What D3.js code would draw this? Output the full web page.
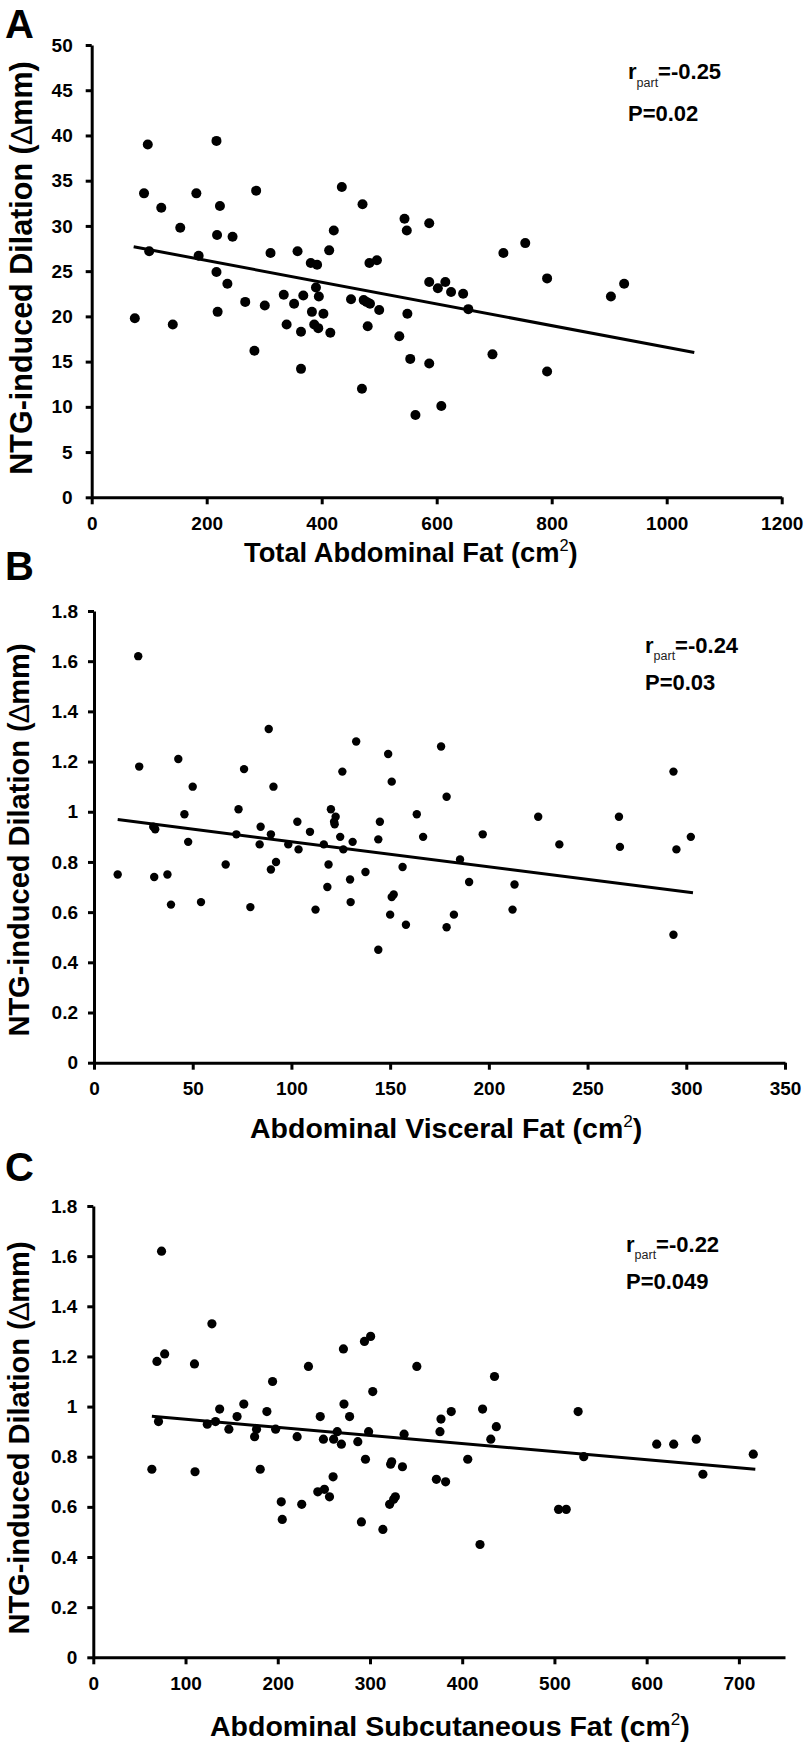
<!DOCTYPE html>
<html>
<head>
<meta charset="utf-8">
<script src="https://cdn.jsdelivr.net/npm/d3@7"></script>
<style>
  body { margin: 0; background: #fff; }
  svg { display: block; }
</style>
</head>
<body>
<svg id="chart" width="806" height="1745"></svg>
<script>
// ---------------- DATA ----------------
// Panel A: Total abdominal fat (cm2) vs NTG-induced dilation
const totalFat = [75, 91, 97.5, 100, 121, 141, 154, 182, 186, 217, 218, 223, 217, 219, 236, 245, 267, 283, 286, 301, 311, 334, 339, 352, 358, 364, 364, 368, 381, 383, 387, 392, 390, 394, 395, 403, 413, 415, 421, 435, 451, 471, 470, 473, 478, 480, 483, 484, 496, 500, 535, 544, 548, 549, 554, 563, 587, 587, 587, 602, 608, 615, 625, 646, 655, 697, 716, 754, 792, 792, 903, 926];
const ntgA = [19.8, 33.6, 39.0, 27.2, 32.0, 19.1, 29.8, 33.6, 26.7, 39.4, 29.0, 32.2, 24.9, 20.5, 23.6, 28.8, 21.6, 16.2, 33.9, 21.2, 27.0, 22.4, 19.1, 21.4, 27.2, 18.3, 14.2, 22.3, 25.9, 20.5, 19.1, 25.7, 23.2, 18.7, 22.2, 20.3, 27.3, 18.2, 29.5, 34.3, 21.9, 32.4, 12.0, 21.8, 21.6, 18.9, 25.9, 21.4, 26.2, 20.7, 17.8, 30.8, 29.5, 20.3, 15.3, 9.1, 30.3, 14.8, 23.8, 23.1, 10.1, 23.8, 22.7, 22.5, 20.8, 15.8, 27.0, 28.1, 24.2, 13.9, 22.2, 23.6];
const fitA = [[73, 27.7], [1048, 16.0]];
const xTicksA = [0, 200, 400, 600, 800, 1000, 1200];
const yTicksA = [0, 5, 10, 15, 20, 25, 30, 35, 40, 45, 50];
const yTickLabelsA = ["0", "5", "10", "15", "20", "25", "30", "35", "40", "45", "50"];

// Panel B: Abdominal visceral fat (cm2)
const visceralFat = [12, 22.4, 22.9, 30, 31, 30.5, 37.2, 39, 42.7, 45.8, 47.7, 50, 54.2, 66.7, 72.1, 73.2, 76, 79.2, 84.4, 83.9, 88.5, 89.6, 89.6, 90.9, 92.2, 98.4, 103, 103.6, 109.4, 112.2, 116.4, 118.2, 118.8, 120, 121.6, 122.4, 121.9, 124.7, 125.8, 126.3, 129.7, 130, 131, 132.8, 137.5, 144, 144.8, 144, 149, 150, 150.8, 150.8, 151.8, 156.3, 158, 163.5, 166.7, 175.8, 178.6, 178.6, 182.3, 185.4, 190, 196.9, 212, 213, 225, 235.7, 265.9, 266.4, 293.5, 293.5, 295, 302.3];
const ntgB = [0.75, 1.62, 1.18, 0.94, 0.93, 0.74, 0.75, 0.63, 1.21, 0.99, 0.88, 1.10, 0.64, 0.79, 0.91, 1.01, 1.17, 0.62, 0.94, 0.87, 1.33, 0.91, 0.77, 1.10, 0.80, 0.87, 0.96, 0.85, 0.92, 0.61, 0.87, 0.70, 0.79, 1.01, 0.96, 0.98, 0.95, 0.90, 1.16, 0.85, 0.73, 0.64, 0.88, 1.28, 0.76, 0.89, 0.96, 0.45, 1.23, 0.59, 1.12, 0.66, 0.67, 0.78, 0.55, 0.99, 0.90, 1.26, 1.06, 0.54, 0.59, 0.81, 0.72, 0.91, 0.61, 0.71, 0.98, 0.87, 0.98, 0.86, 1.16, 0.51, 0.85, 0.90];
const fitB = [[12, 0.969], [303.4, 0.677]];
const xTicksB = [0, 50, 100, 150, 200, 250, 300, 350];
const yTicksB = [0, 0.2, 0.4, 0.6, 0.8, 1.0, 1.2, 1.4, 1.6, 1.8];
const yTickLabelsB = ["0", "0.2", "0.4", "0.6", "0.8", "1", "1.2", "1.4", "1.6", "1.8"];

// Panel C: Abdominal subcutaneous fat (cm2)
const subcutFat = [63.5, 69, 70.7, 74, 77.4, 109.7, 110.3, 123.6, 128.6, 132.5, 137, 147, 155.9, 163.2, 174.9, 177, 181, 188.2, 194.4, 197.7, 203.8, 204.9, 221, 226, 233.3, 243.4, 246.1, 249.5, 250.6, 256.1, 260, 260.6, 264.5, 269, 271.2, 271.8, 277.9, 286.8, 290.7, 294, 295.1, 298.5, 300.7, 303, 314, 321.3, 322.4, 323.5, 325.7, 327.5, 335.2, 337, 350.8, 372, 375.9, 377, 382, 388.1, 406, 419.3, 422.1, 431, 435, 437, 504.5, 512.8, 525.7, 531.8, 610.9, 629.3, 653.8, 661, 715.6];
const ntgC = [0.75, 1.18, 0.94, 1.62, 1.21, 1.17, 0.74, 0.93, 1.33, 0.94, 0.99, 0.91, 0.96, 1.01, 0.88, 0.91, 0.75, 0.98, 1.10, 0.91, 0.62, 0.55, 0.88, 0.61, 1.16, 0.66, 0.96, 0.87, 0.67, 0.64, 0.72, 0.87, 0.90, 0.85, 1.23, 1.01, 0.96, 0.86, 0.54, 1.26, 0.79, 0.90, 1.28, 1.06, 0.51, 0.61, 0.77, 0.78, 0.63, 0.64, 0.76, 0.89, 1.16, 0.71, 0.90, 0.95, 0.70, 0.98, 0.79, 0.45, 0.99, 0.87, 1.12, 0.92, 0.59, 0.59, 0.98, 0.80, 0.85, 0.85, 0.87, 0.73, 0.81];
const fitC = [[63.5, 0.961], [717.8, 0.750]];
const xTicksC = [0, 100, 200, 300, 400, 500, 600, 700];
const yTicksC = [0, 0.2, 0.4, 0.6, 0.8, 1.0, 1.2, 1.4, 1.6, 1.8];
const yTickLabelsC = ["0", "0.2", "0.4", "0.6", "0.8", "1", "1.2", "1.4", "1.6", "1.8"];

const panelLetters = ["A", "B", "C"];
const xTitles = ["Total Abdominal Fat (cm", "Abdominal Visceral Fat (cm", "Abdominal Subcutaneous Fat (cm"];
const yTitle = "NTG-induced Dilation (";
const rValues = ["=-0.25", "=-0.24", "=-0.22"];
const pValues = ["P=0.02", "P=0.03", "P=0.049"];

// ---------------- LAYOUT ----------------
const FONT = "'Liberation Sans', Arial, Helvetica, sans-serif";
const svg = d3.select("#chart");
svg.append("rect").attr("width", 806).attr("height", 1745).attr("fill", "#fff");

const panels = [
  { x: totalFat, y: ntgA, fit: fitA, xDom: [0, 1200], yDom: [0, 50], xRange: [91.7, 781.7], yRange: [497.3, 45],
    xTicks: xTicksA, yTicks: yTicksA, yLabels: yTickLabelsA, r: 5,
    letterY: 38, yTitleX: 32, yTitleY: 268, yTitleFs: 30.5, xTitleX: 244, xTitleY: 561.5, xTitleFs: 27.3,
    annX: 628, annY: 79.3, annY2: 120.5, yLabPad: 13 },
  { x: visceralFat, y: ntgB, fit: fitB, xDom: [0, 350], yDom: [0, 1.8], xRange: [94, 785], yRange: [1062.7, 611],
    xTicks: xTicksB, yTicks: yTicksB, yLabels: yTickLabelsB, r: 4.2,
    letterY: 580, yTitleX: 29, yTitleY: 840, yTitleFs: 29, xTitleX: 250, xTitleY: 1138, xTitleFs: 28.5,
    annX: 645, annY: 652.7, annY2: 690, yLabPad: 10 },
  { x: subcutFat, y: ntgC, fit: fitC, xDom: [0, 750], yDom: [0, 1.8], xRange: [93.3, 785], yRange: [1657.3, 1206],
    xTicks: xTicksC, yTicks: yTicksC, yLabels: yTickLabelsC, r: 4.6,
    letterY: 1181, yTitleX: 29, yTitleY: 1438, yTitleFs: 29, xTitleX: 210, xTitleY: 1736, xTitleFs: 28.5,
    annX: 626, annY: 1251.7, annY2: 1289.3, yLabPad: 10 }
];

panels.forEach((p, i) => {
  const g = svg.append("g");
  const xs = d3.scaleLinear().domain(p.xDom).range(p.xRange);
  const ys = d3.scaleLinear().domain(p.yDom).range(p.yRange);

  // panel letter
  g.append("text").attr("x", 5).attr("y", p.letterY)
    .attr("font-family", FONT).attr("font-weight", "bold").attr("font-size", 40)
    .text(panelLetters[i]);

  // y axis
  const yAxis = d3.axisLeft(ys).tickValues(p.yTicks).tickFormat((d, k) => p.yLabels[k])
    .tickSize(6).tickSizeOuter(0).tickPadding(p.yLabPad);
  const yg = g.append("g").attr("transform", `translate(${p.xRange[0]},0)`).call(yAxis);
  // x axis
  const xAxis = d3.axisBottom(xs).tickValues(p.xTicks).tickFormat(d3.format("d"))
    .tickSize(7).tickSizeOuter(0).tickPadding(12);
  const xg = g.append("g").attr("transform", `translate(0,${p.yRange[0]})`).call(xAxis);

  [yg, xg].forEach(ax => {
    ax.select(".domain").attr("stroke", "#000").attr("stroke-width", 3);
    ax.selectAll(".tick line").attr("stroke", "#000").attr("stroke-width", 3);
    ax.selectAll(".tick text").attr("fill", "#000").attr("font-family", FONT)
      .attr("font-weight", "bold").attr("font-size", 19);
  });

  // points
  const pts = p.x.map((v, k) => [v, p.y[k]]);
  g.append("g").selectAll("circle").data(pts).join("circle")
    .attr("cx", d => xs(d[0])).attr("cy", d => ys(d[1])).attr("r", p.r).attr("fill", "#000");

  // regression line
  g.append("line")
    .attr("x1", xs(p.fit[0][0])).attr("y1", ys(p.fit[0][1]))
    .attr("x2", xs(p.fit[1][0])).attr("y2", ys(p.fit[1][1]))
    .attr("stroke", "#000").attr("stroke-width", 3);

  // y title
  const yt = g.append("text")
    .attr("transform", `translate(${p.yTitleX},${p.yTitleY}) rotate(-90)`)
    .attr("text-anchor", "middle")
    .attr("font-family", FONT).attr("font-weight", "bold").attr("font-size", p.yTitleFs);
  yt.append("tspan").text(yTitle);
  yt.append("tspan").attr("font-weight", "normal").text("\u2206");
  yt.append("tspan").text("mm)");

  // x title
  const xt = g.append("text").attr("x", p.xTitleX).attr("y", p.xTitleY)
    .attr("font-family", FONT).attr("font-weight", "bold").attr("font-size", p.xTitleFs);
  xt.append("tspan").text(xTitles[i]);
  xt.append("tspan").attr("font-weight", "normal").attr("font-size", p.xTitleFs * 0.6)
    .attr("dy", -p.xTitleFs * 0.38).text("2");
  xt.append("tspan").attr("dy", p.xTitleFs * 0.38).text(")");

  // annotation
  const an = g.append("text").attr("x", p.annX).attr("y", p.annY)
    .attr("font-family", FONT).attr("font-weight", "bold").attr("font-size", 22);
  an.append("tspan").text("r");
  an.append("tspan").attr("font-weight", "normal").attr("font-size", 12.5).attr("fill", "#222")
    .attr("dy", 7.4).text("part");
  an.append("tspan").attr("dy", -7.4).text(rValues[i]);
  g.append("text").attr("x", p.annX).attr("y", p.annY2)
    .attr("font-family", FONT).attr("font-weight", "bold").attr("font-size", 22)
    .text(pValues[i]);
});
</script>
</body>
</html>
